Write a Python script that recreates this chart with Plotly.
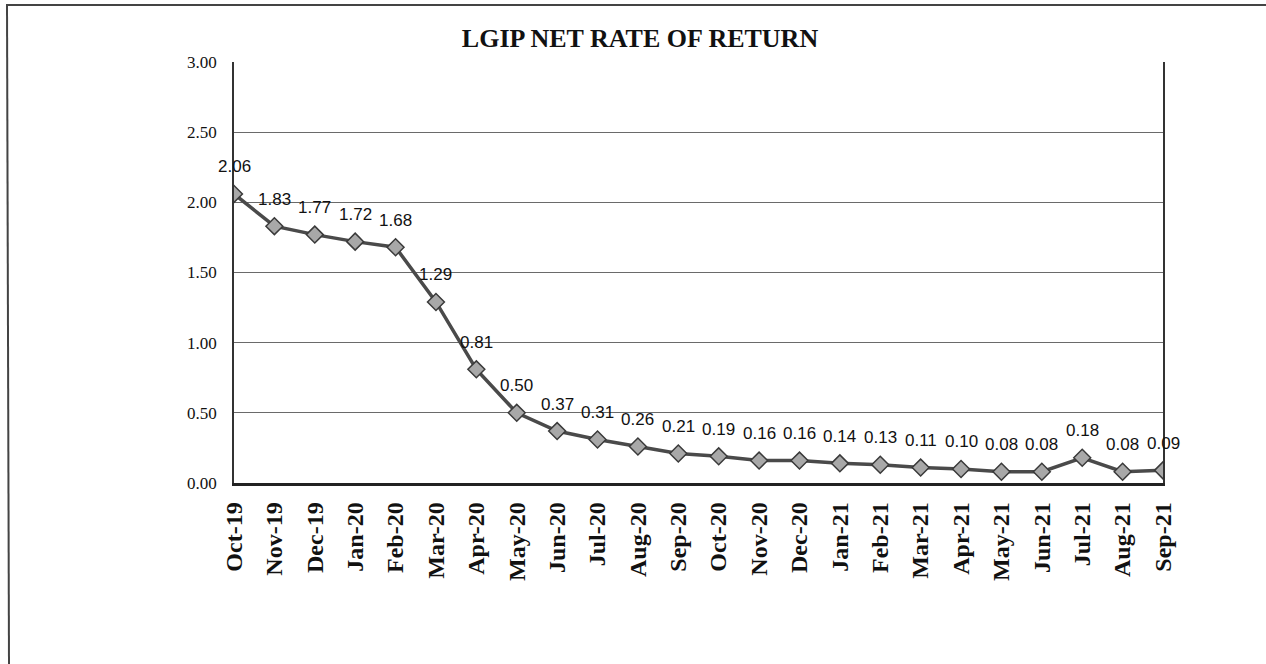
import plotly.graph_objects as go

months = ["Oct-19", "Nov-19", "Dec-19", "Jan-20", "Feb-20", "Mar-20", "Apr-20", "May-20",
          "Jun-20", "Jul-20", "Aug-20", "Sep-20", "Oct-20", "Nov-20", "Dec-20", "Jan-21",
          "Feb-21", "Mar-21", "Apr-21", "May-21", "Jun-21", "Jul-21", "Aug-21", "Sep-21"]
rates = [2.06, 1.83, 1.77, 1.72, 1.68, 1.29, 0.81, 0.50, 0.37, 0.31, 0.26, 0.21,
         0.19, 0.16, 0.16, 0.14, 0.13, 0.11, 0.10, 0.08, 0.08, 0.18, 0.08, 0.09]
y_ticks = [0.0, 0.5, 1.0, 1.5, 2.0, 2.5, 3.0]

W, H = 1266, 664
L, R, T, B = 234, 103, 62, 181
pw, ph = W - L - R, H - T - B

fig = go.Figure()
fig.add_trace(go.Scatter(
    x=months, y=rates, mode="lines+markers",
    line=dict(color="#4a4a4a", width=3.5),
    marker=dict(symbol="diamond", size=13, color="#a8a8a8",
                line=dict(color="#3a3a3a", width=1.5)),
    hoverinfo="x+y", showlegend=False,
))

for m, v in zip(months, rates):
    fig.add_annotation(x=m, y=v, text=f"{v:.2f}", showarrow=False, yshift=27,
                       font=dict(family="Liberation Sans", size=17, color="#111"))

# scanned page frame (top and left edges)
fig.add_shape(type="line", xref="paper", yref="paper",
              x0=(6 - L) / pw, x1=(W - L) / pw,
              y0=(H - B - 5) / ph, y1=(H - B - 5) / ph,
              line=dict(color="#444", width=2))
fig.add_shape(type="line", xref="paper", yref="paper",
              x0=(7 - L) / pw, x1=(9 - L) / pw,
              y0=(H - B - 5) / ph, y1=(H - B - H) / ph,
              line=dict(color="#444", width=2))

fig.update_layout(
    width=W, height=H,
    margin=dict(l=L, r=R, t=T, b=B),
    paper_bgcolor="white", plot_bgcolor="white",
    title=dict(text="<b>LGIP NET RATE OF RETURN</b>", xref="container", yref="container",
               x=640 / W, y=1 - 38 / H, xanchor="center", yanchor="middle",
               font=dict(family="Liberation Serif", size=26, color="#111")),
    xaxis=dict(type="category", categoryorder="array", categoryarray=months,
               range=[0, len(months) - 1], tickangle=-90,
               tickfont=dict(family="Liberation Serif", size=24, color="#111", weight="bold"),
               showline=True, linecolor="#222", linewidth=2.5, mirror=False,
               showgrid=False, ticks="", ticklabelstandoff=7),
    yaxis=dict(range=[0, 3], tickvals=y_ticks, tickformat=".2f",
               tickfont=dict(family="Liberation Serif", size=17, color="#111"),
               showline=True, linecolor="#333", linewidth=1.5, mirror=True,
               showgrid=True, gridcolor="#6a6a6a", gridwidth=1, zeroline=False,
               ticks="", ticklabelstandoff=12),
)

fig.write_html("out.html", config={"displayModeBar": False},
               post_script="document.body.style.margin='0';")
